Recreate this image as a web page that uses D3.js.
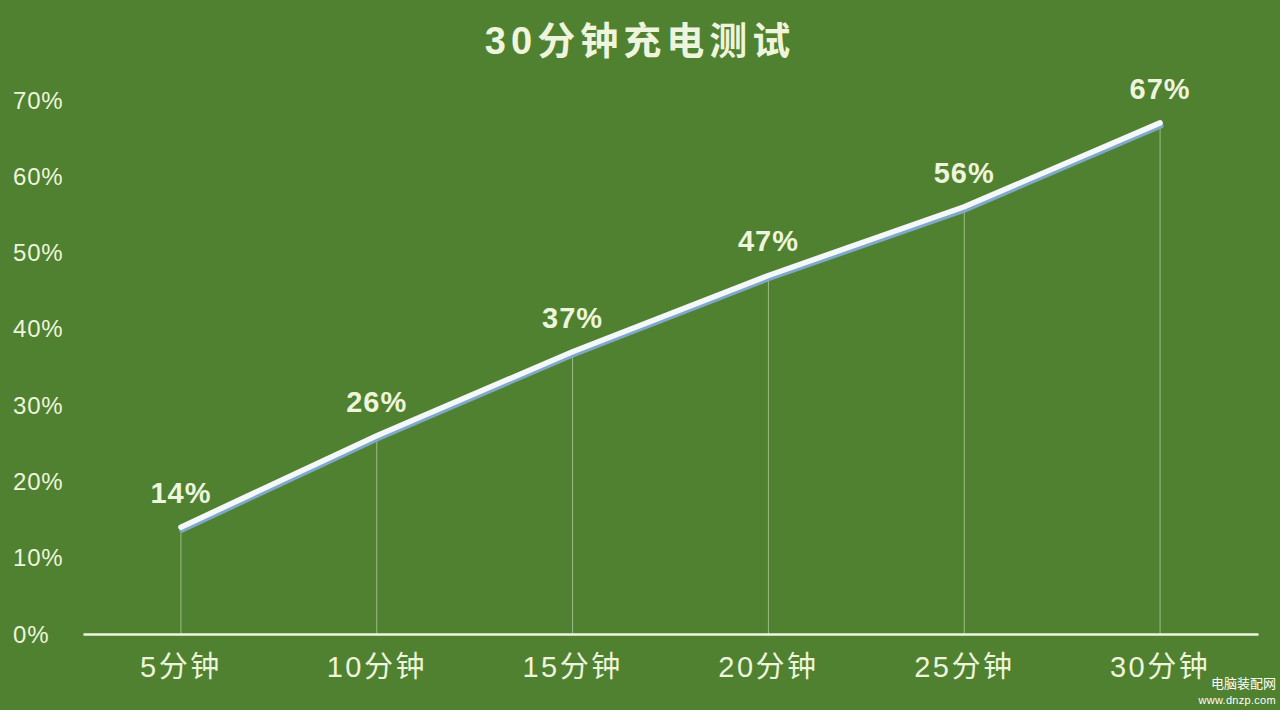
<!DOCTYPE html>
<html><head><meta charset="utf-8">
<script src="https://cdn.jsdelivr.net/npm/d3@7/dist/d3.min.js"></script>
<style>
html,body{margin:0;padding:0;background:#4f8131;}
svg{display:block;font-family:"Liberation Sans","Noto Sans CJK SC",sans-serif;}
</style></head>
<body>
<svg id="c" width="1280" height="710"></svg>
<script>
const categories = ["5分钟","10分钟","15分钟","20分钟","25分钟","30分钟"];
const values = [14, 26, 37, 47, 56, 67];
const yTicks = [0,10,20,30,40,50,60,70];
const title = "30分钟充电测试";

const svg = d3.select("#c");
const W = 1280, H = 710;
const fg = "#eef5dc";
const FONT = '"Liberation Sans","Noto Sans CJK SC",sans-serif';
svg.append("rect").attr("width",W).attr("height",H).attr("fill","#4f8131");

const x = d3.scaleBand().domain(categories).range([83,1258]);
const y = d3.scaleLinear().domain([0,70]).range([634,100]);
const cx = d => x(d) + x.bandwidth()/2;

// title
svg.append("text").attr("x",640).attr("y",54).attr("text-anchor","middle")
  .attr("fill",fg).attr("font-size",38).attr("font-weight","bold")
  .attr("letter-spacing",5).text(title);

// y tick labels
svg.append("g").selectAll("text").data(yTicks).join("text")
  .attr("x",13).attr("y",d=>y(d)).attr("dy","0.36em")
  .attr("fill",fg).attr("font-size",24).attr("letter-spacing",0.8).text(d=>d+"%");

// drop lines
svg.append("g").selectAll("line").data(values).join("line")
  .attr("x1",(d,i)=>cx(categories[i])).attr("x2",(d,i)=>cx(categories[i]))
  .attr("y1",d=>y(d)).attr("y2",y(0))
  .attr("stroke","#dfeccc").attr("stroke-opacity",0.55).attr("stroke-width",1);

// x axis
const xAxis = d3.axisBottom(x).tickSize(0).tickPadding(22);
const gx = svg.append("g").attr("transform",`translate(0,${y(0)})`).call(xAxis);
gx.select(".domain").attr("stroke","#f0f5e0").attr("stroke-width",2.5);
gx.selectAll("text").attr("fill",fg).attr("font-size",29).attr("letter-spacing",2.5)
  .attr("font-family",FONT);

// line with shadow
const line = d3.line().x((d,i)=>cx(categories[i])).y(d=>y(d));
svg.append("path").datum(values).attr("d",line)
  .attr("transform","translate(1,3)")
  .attr("fill","none").attr("stroke","#7fa9c9").attr("stroke-width",5).attr("stroke-linecap","round");
svg.append("path").datum(values).attr("d",line)
  .attr("fill","none").attr("stroke","#f4f8fb").attr("stroke-width",5.5).attr("stroke-linecap","round");

// data labels
svg.append("g").selectAll("text").data(values).join("text")
  .attr("x",(d,i)=>cx(categories[i])).attr("y",d=>y(d)-24)
  .attr("text-anchor","middle").attr("fill",fg).attr("font-size",29).attr("font-weight","bold")
  .attr("letter-spacing",1)
  .text(d=>d+"%");

// watermark
svg.append("text").attr("x",1276).attr("y",688).attr("text-anchor","end")
  .attr("fill","#ffffff").attr("font-size",13).text("电脑装配网");
svg.append("text").attr("x",1276).attr("y",704).attr("text-anchor","end")
  .attr("fill","#ffffff").attr("font-size",11).attr("letter-spacing",0.3).text("www.dnzp.com");
</script>
</body></html>
